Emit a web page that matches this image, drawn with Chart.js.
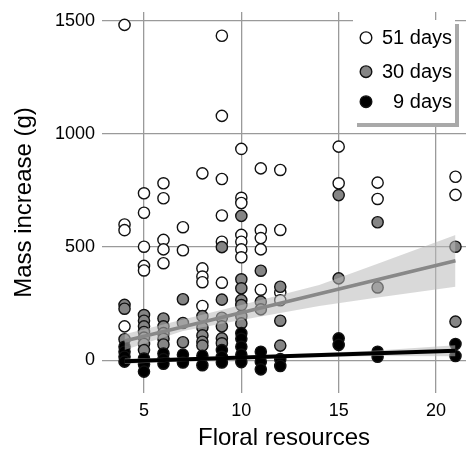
<!DOCTYPE html>
<html>
<head>
<meta charset="utf-8">
<script src="https://cdn.jsdelivr.net/npm/chart.js@4/dist/chart.umd.min.js"></script>
<style>
html,body{margin:0;padding:0;background:#fff;}
#wrap{width:466px;height:450px;}
</style>
</head>
<body>
<div id="wrap"><canvas id="c" width="466" height="450"></canvas></div>
<script>
// ---- data ----
const xTicks = [5, 10, 15, 20];
const yTicks = [0, 500, 1000, 1500];
const seriesNames = ["51 days", "30 days", "9 days"];

// 51 days (white)
const floralWhite = [4,4,4,4, 5,5,5,5,5, 6,6,6,6,6, 7,7, 8,8,8,8,8, 9,9,9,9,9,9, 10,10,10,10,10,10,10, 11,11,11,11,11, 12,12,12,12, 15,15, 17,17, 21,21];
const massWhite   = [1482,600,575,150, 738,652,502,417,397, 782,716,532,490,429, 588,486, 826,406,370,345,240, 1434,1080,801,640,524,343, 934,718,695,554,524,490,455, 848,575,540,490,312, 841,576,300,265, 944,782, 785,713, 811,731];

// 30 days (grey)
const floralGray = [4,4,4, 5,5,5,5,5,5,5, 6,6,6,6,6, 7,7,7, 8,8,8,8,8, 9,9,9,9,9,9, 10,10,10,10,10,10,10, 11,11,11, 12,12,12, 15,15, 17,17, 21,21];
const massGray   = [245,228,93, 200,175,150,125,100,72,45, 185,150,120,95,70, 270,165,80, 195,145,110,82,65, 500,268,188,150,97,75, 638,358,318,266,244,195,163, 396,259,225, 325,175,65, 730,362, 610,322, 502,171];

// 9 days (black)
const floralBlack = [4,4,4,4, 5,5,5, 6,6,6, 7,7, 8,8, 9,9,9, 10,10,10,10,10, 11,11,11, 12,12, 15,15, 17,17, 21,21];
const massBlack   = [60,38,16,-6, 8,-18,-50, 30,5,-15, 25,-10, 20,-22, 45,15,-10, 120,95,60,25,-8, 38,-6,-40, 5,-25, 97,68, 38,16, 72,19];

// fitted lines and confidence bands
const fitX = [4, 21];
const grayFit = [85, 440];
const blackFit = [-4, 42];
const bandX = [4, 7, 10, 14, 17, 21];
const grayUpper = [115, 180, 244, 333, 427, 554];
const grayLower = [45, 130, 178, 240, 277, 325];
const blackUpper = [8, 12, 19, 32, 43, 66];
const blackLower = [-16, -4, 5, 14, 19, 18];

// ---- build ----
const pts = (xs, ys) => xs.map((x, i) => ({x: x, y: ys[i]}));
const FONT = "'Liberation Sans', Arial, Helvetica, sans-serif";
const fills = ['#ffffff', '#858585', '#000000'];

const datasets = [
  {type:'line', data: pts(fitX, blackFit), borderColor:'#000', borderWidth:4, pointRadius:0, fill:false, order:0},
  {type:'line', data: pts(bandX, blackLower), borderWidth:0, borderColor:'rgba(0,0,0,0)', pointRadius:0, fill:false, order:1},
  {type:'line', data: pts(bandX, blackUpper), borderWidth:0, borderColor:'rgba(0,0,0,0)', pointRadius:0, fill:'-1', backgroundColor:'rgba(185,185,185,0.55)', order:1},
  {type:'line', data: pts(fitX, grayFit), borderColor:'#888', borderWidth:3.5, pointRadius:0, fill:false, order:2},
  {type:'line', data: pts(bandX, grayLower), borderWidth:0, borderColor:'rgba(0,0,0,0)', pointRadius:0, fill:false, order:3},
  {type:'line', data: pts(bandX, grayUpper), borderWidth:0, borderColor:'rgba(0,0,0,0)', pointRadius:0, fill:'-1', backgroundColor:'rgba(185,185,185,0.55)', order:3},
  {type:'scatter', label: seriesNames[2], data: pts(floralBlack, massBlack), backgroundColor: fills[2], borderColor:'#111', borderWidth:1.4, pointRadius:5.6, order:4},
  {type:'scatter', label: seriesNames[1], data: pts(floralGray, massGray), backgroundColor: fills[1], borderColor:'#111', borderWidth:1.4, pointRadius:5.6, order:5},
  {type:'scatter', label: seriesNames[0], data: pts(floralWhite, massWhite), backgroundColor: fills[0], borderColor:'#111', borderWidth:1.4, pointRadius:5.6, order:6}
];

const legendPlugin = {
  id: 'boxLegend',
  afterDraw(chart) {
    const ctx = chart.ctx;
    ctx.save();
    const L = 353, T = 20, W = 102, H = 103;
    ctx.fillStyle = '#a9a9a9';
    ctx.fillRect(L + 4, T + 4, W, H);
    ctx.fillStyle = '#ffffff';
    ctx.fillRect(L, T, W, H);
    const rows = [37.7, 71.7, 101.7];
    ctx.font = '20px ' + FONT;
    ctx.textAlign = 'right';
    ctx.textBaseline = 'middle';
    for (let i = 0; i < 3; i++) {
      ctx.beginPath();
      ctx.arc(366, rows[i], 5.8, 0, Math.PI * 2);
      ctx.fillStyle = fills[i];
      ctx.fill();
      ctx.lineWidth = 1.4;
      ctx.strokeStyle = '#111';
      ctx.stroke();
      ctx.fillStyle = '#000';
      ctx.fillText(seriesNames[i], 452, rows[i] + 1);
    }
    ctx.restore();
  }
};

new Chart(document.getElementById('c'), {
  type: 'scatter',
  data: { datasets: datasets },
  options: {
    responsive: false,
    animation: false,
    devicePixelRatio: 1,
    layout: { autoPadding: false, padding: { top: 12, right: 0, left: 0, bottom: 0 } },
    plugins: { legend: { display: false }, tooltip: { enabled: false } },
    scales: {
      x: {
        type: 'linear',
        min: 2.843, max: 21.54,
        afterFit(s) { s.height = 57; s.paddingLeft = 0; s.paddingRight = 0; },
        afterBuildTicks(s) { s.ticks = xTicks.map(v => ({value: v})); },
        grid: { color: '#9a9a9a', lineWidth: 1.3, tickLength: 0 },
        border: { display: false },
        ticks: { color: '#000', font: { family: FONT, size: 18 }, padding: 7.3, maxRotation: 0, callback: v => String(v) },
        title: { display: true, text: 'Floral resources', color: '#000', font: { family: FONT, size: 24 }, padding: { top: 0, bottom: -3 } }
      },
      y: {
        type: 'linear',
        min: -144.5, max: 1539,
        afterFit(s) { s.width = 102; s.paddingTop = 0; s.paddingBottom = 0; },
        afterBuildTicks(s) { s.ticks = yTicks.map(v => ({value: v})); },
        grid: { color: '#9a9a9a', lineWidth: 1.3, tickLength: 0 },
        border: { display: false },
        ticks: { color: '#000', font: { family: FONT, size: 18 }, padding: 7, callback: v => String(v) },
        title: { display: true, text: 'Mass increase (g)', color: '#000', font: { family: FONT, size: 24 }, padding: { top: 9.6, bottom: 0 } }
      }
    }
  },
  plugins: [legendPlugin]
});
</script>
</body>
</html>
